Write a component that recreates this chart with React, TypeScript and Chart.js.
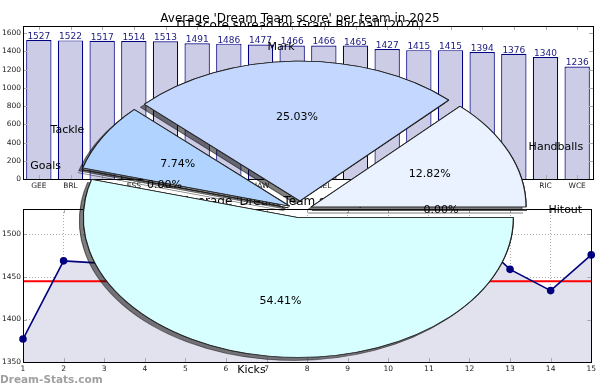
import React, { useEffect, useRef } from 'react';
import { Chart, registerables } from 'chart.js';
Chart.register(...registerables);

const FONT = "'DejaVu Sans', sans-serif";

// ---- Bar chart data ----
const BAR_TITLE = "Average 'Dream Team score' per team in 2025";
const BAR_TEAMS = ['GEE', 'BRL', 'SYD', 'ESS', 'COL', 'WBD', 'PTA', 'HAW', 'ADE', 'MEL', 'GWS', 'CAR', 'FRE', 'STK', 'NTH', 'GCS', 'RIC', 'WCE'];
const BAR_VALUES = [1527, 1522, 1517, 1514, 1513, 1491, 1486, 1477, 1466, 1466, 1465, 1427, 1415, 1415, 1394, 1376, 1340, 1236];
const BAR_Y_MAX = 1680;
const BAR_Y_STEP = 200;

// ---- Line chart data ----
const LINE_TITLE = "Average 'Dream Team score' per round";
const ROUNDS = ['1', '2', '3', '4', '5', '6', '7', '8', '9', '10', '11', '12', '13', '14', '15'];
const ROUND_SCORES = [1377, 1469, 1466, 1420, 1455, 1398, 1440, 1462, 1410, 1445, 1461, 1503, 1459, 1434, 1476];
const ROUND_MEAN = [1445, 1445, 1445, 1445, 1445, 1445, 1445, 1445, 1445, 1445, 1445, 1445, 1445, 1445, 1445];
const LINE_Y_MIN = 1350;
const LINE_Y_MAX = 1530;
const LINE_Y_STEP = 50;

// ---- Pie chart data (clockwise from east) ----
const PIE_TITLE = 'DT score spread for Grant Birchall (2020)';
const PIE_LABELS = ['Hitout', 'Kicks', 'Goals', 'Tackle', 'Mark', 'Handballs'];
const PIE_PERCENT = [0, 54.41, 0, 7.74, 25.03, 12.82];
const PIE_COLORS = ['#F0E6FF', '#D8FFFF', '#E0E0FF', '#B0D4FF', '#C4D8FF', '#EAF2FF'];
const PIE_EXPLODE = [12, 12, 12, 12, 14, 12];
const PIE_KY = 0.65;

function frame(chart: any) {
  const { ctx, chartArea: a } = chart;
  ctx.save();
  // inside tick marks (matplotlib style)
  ctx.strokeStyle = '#aaaaaa';
  ctx.lineWidth = 1;
  const xs = chart.scales.x, ys = chart.scales.y;
  ctx.beginPath();
  xs.ticks.forEach((_t: any, i: number) => {
    const x = Math.round(xs.getPixelForTick(i)) + 0.5;
    ctx.moveTo(x, a.top); ctx.lineTo(x, a.top + 4);
    ctx.moveTo(x, a.bottom); ctx.lineTo(x, a.bottom - 4);
  });
  ys.ticks.forEach((_t: any, i: number) => {
    const y = Math.round(ys.getPixelForTick(i)) + 0.5;
    ctx.moveTo(a.left, y); ctx.lineTo(a.left + 4, y);
    ctx.moveTo(a.right, y); ctx.lineTo(a.right - 4, y);
  });
  ctx.stroke();
  ctx.strokeStyle = '#000';
  ctx.strokeRect(Math.round(a.left) + 0.5, Math.round(a.top) + 0.5, Math.round(a.right - a.left), Math.round(a.bottom - a.top));
  ctx.restore();
}

const plainTick = (v: any) => String(v);

const barDecor = {
  id: 'barDecor',
  beforeDraw(chart: any) {
    const { ctx, chartArea } = chart;
    ctx.save();
    ctx.beginPath();
    ctx.rect(0, 0, chart.width, chartArea.top);
    ctx.clip();
    ctx.font = `12px ${FONT}`;
    ctx.fillStyle = '#000';
    ctx.textAlign = 'center';
    ctx.textBaseline = 'alphabetic';
    ctx.fillText(PIE_TITLE, 300, 29);
    ctx.restore();
    ctx.save();
    ctx.font = `12px ${FONT}`;
    ctx.fillStyle = '#000';
    ctx.textAlign = 'center';
    ctx.textBaseline = 'alphabetic';
    ctx.fillText(BAR_TITLE, 300, 22);
    ctx.restore();
  },
  afterDatasetsDraw(chart: any) {
    const { ctx } = chart;
    const meta = chart.getDatasetMeta(0);
    ctx.save();
    ctx.font = `9px ${FONT}`;
    ctx.fillStyle = '#1a1a80';
    ctx.textAlign = 'center';
    ctx.textBaseline = 'alphabetic';
    meta.data.forEach((el: any, i: number) => {
      ctx.fillText(String(BAR_VALUES[i]), el.x, el.y - 1);
    });
    ctx.restore();
  },
  afterDraw(chart: any) {
    frame(chart);
  },
};

const lineDecor = {
  id: 'lineDecor',
  beforeDraw(chart: any) {
    const { ctx } = chart;
    ctx.save();
    ctx.font = `12px ${FONT}`;
    ctx.fillStyle = '#000';
    ctx.textAlign = 'center';
    ctx.textBaseline = 'alphabetic';
    ctx.fillText(LINE_TITLE, 300, 10);
    ctx.restore();
  },
  afterDraw(chart: any) {
    frame(chart);
  },
};

function drawSlice(ctx: any, el: any, e: number) {
  const mid = (el.startAngle + el.endAngle) / 2;
  ctx.save();
  ctx.translate(Math.cos(mid) * e, Math.sin(mid) * e);
  if (el.endAngle - el.startAngle > 0) {
    el.draw(ctx);
  } else {
    const a = el.startAngle;
    ctx.beginPath();
    ctx.moveTo(el.x, el.y);
    ctx.lineTo(el.x + Math.cos(a) * el.outerRadius, el.y + Math.sin(a) * el.outerRadius);
    ctx.strokeStyle = '#222';
    ctx.lineWidth = 1.2;
    ctx.stroke();
  }
  ctx.restore();
}

const pieDecor = {
  id: 'pieDecor',
  beforeDatasetsDraw(chart: any) {
    const ctx = chart.ctx;
    const meta = chart.getDatasetMeta(0);
    const el0 = meta.data[0];
    const cx = el0.x, cy = el0.y;
    ctx.save();
    ctx.translate(cx, cy);
    ctx.scale(1, PIE_KY);
    ctx.translate(-cx, -cy);
    // shadows first, behind every wedge
    ctx.save();
    ctx.shadowColor = 'rgba(0,0,0,0.5)';
    ctx.shadowOffsetX = -4;
    ctx.shadowOffsetY = 3;
    ctx.shadowBlur = 0;
    meta.data.forEach((el: any, i: number) => drawSlice(ctx, el, PIE_EXPLODE[i]));
    ctx.restore();
    // wedges
    meta.data.forEach((el: any, i: number) => drawSlice(ctx, el, PIE_EXPLODE[i]));
    ctx.restore();

    // labels
    ctx.save();
    ctx.font = `11px ${FONT}`;
    ctx.fillStyle = '#000';
    ctx.textBaseline = 'middle';
    meta.data.forEach((el: any, i: number) => {
      const mid = (el.startAngle + el.endAngle) / 2;
      const e = PIE_EXPLODE[i];
      const r = el.outerRadius;
      const c = Math.cos(mid), s = Math.sin(mid);
      const lx = cx + c * (e + 1.1 * r);
      const ly = cy + PIE_KY * s * (e + 1.1 * r);
      ctx.textAlign = c >= 0 ? 'left' : 'right';
      ctx.fillText(PIE_LABELS[i], lx, ly);
      const px = cx + c * (e + 0.6 * r);
      const py = cy + PIE_KY * s * (e + 0.6 * r);
      ctx.textAlign = 'center';
      ctx.fillText(PIE_PERCENT[i].toFixed(2) + '%', px, py);
    });
    ctx.restore();
    return false;
  },
};

export default function App() {
  const barRef = useRef<HTMLCanvasElement>(null);
  const lineRef = useRef<HTMLCanvasElement>(null);
  const pieRef = useRef<HTMLCanvasElement>(null);

  useEffect(() => {
    const tickFont = { family: FONT, size: 7.5 };
    const bar = new Chart(barRef.current as HTMLCanvasElement, {
      type: 'bar',
      data: {
        labels: BAR_TEAMS,
        datasets: [{
          data: BAR_VALUES,
          backgroundColor: '#CCCCE6',
          borderColor: '#000080',
          borderWidth: 1.2,
          barPercentage: 0.8,
          categoryPercentage: 1,
        }],
      },
      options: {
        animation: false,
        responsive: false,
        events: [],
        layout: { padding: { top: 26, right: 6, left: 0, bottom: 0 } },
        plugins: { legend: { display: false }, tooltip: { enabled: false }, title: { display: false } },
        scales: {
          x: {
            grid: { display: false, drawTicks: false },
            border: { display: false },
            ticks: { font: tickFont, color: '#222', padding: 3, maxRotation: 0, autoSkip: false },
            afterFit: (s: any) => { s.height = 16; },
          },
          y: {
            min: 0,
            max: BAR_Y_MAX,
            grid: { display: false, drawTicks: false },
            border: { display: false },
            ticks: { stepSize: BAR_Y_STEP, includeBounds: false, font: tickFont, color: '#222', padding: 2, callback: plainTick },
            afterFit: (s: any) => { s.width = 23; },
          },
        },
      } as any,
      plugins: [barDecor],
    });

    const line = new Chart(lineRef.current as HTMLCanvasElement, {
      type: 'line',
      data: {
        labels: ROUNDS,
        datasets: [
          {
            data: ROUND_SCORES,
            borderColor: '#000080',
            backgroundColor: '#E2E2EE',
            fill: 'start',
            borderWidth: 1.6,
            pointRadius: 3,
            pointBackgroundColor: '#000080',
            pointBorderColor: '#000080',
            tension: 0,
          },
          {
            data: ROUND_MEAN,
            borderColor: '#FF0000',
            borderWidth: 2,
            pointRadius: 0,
            fill: false,
          },
        ],
      },
      options: {
        animation: false,
        responsive: false,
        events: [],
        layout: { padding: { top: 14, right: 6, left: 0, bottom: 0 } },
        plugins: {
          legend: { display: false },
          tooltip: { enabled: false },
          title: { display: false },
          filler: { drawTime: 'beforeDatasetsDraw' },
        },
        scales: {
          x: {
            offset: false,
            grid: { color: '#aaaaaa', lineWidth: 1, drawTicks: false },
            border: { display: false, dash: [1, 2] },
            ticks: { font: tickFont, color: '#222', padding: 3, maxRotation: 0, autoSkip: false },
            afterFit: (s: any) => { s.height = 28; },
          },
          y: {
            min: LINE_Y_MIN,
            max: LINE_Y_MAX,
            grid: { color: '#aaaaaa', lineWidth: 1, drawTicks: false },
            border: { display: false, dash: [1, 2] },
            ticks: { stepSize: LINE_Y_STEP, includeBounds: false, font: tickFont, color: '#222', padding: 2, callback: plainTick },
            afterFit: (s: any) => { s.width = 23; },
          },
        },
      } as any,
      plugins: [lineDecor],
    });

    const pie = new Chart(pieRef.current as HTMLCanvasElement, {
      type: 'pie',
      data: {
        labels: PIE_LABELS,
        datasets: [{
          data: PIE_PERCENT,
          backgroundColor: PIE_COLORS,
          borderColor: '#222',
          borderWidth: 1.2,
          offset: 0,
          hoverOffset: 0,
          clip: false,
        } as any],
      },
      options: {
        animation: false,
        responsive: false,
        events: [],
        rotation: 90,
        radius: 215,
        layout: { padding: 0 },
        plugins: { legend: { display: false }, tooltip: { enabled: false }, title: { display: false } },
      } as any,
      plugins: [pieDecor],
    });

    return () => {
      bar.destroy();
      line.destroy();
      pie.destroy();
    };
  }, []);

  return (
    <div style={{ position: 'absolute', left: 0, top: 0, width: 599, height: 390, overflow: 'hidden', background: '#fff' }}>
      <canvas ref={barRef} width={599} height={195} style={{ position: 'absolute', left: 0, top: 0, width: 599, height: 195 }} />
      <canvas ref={lineRef} width={599} height={195} style={{ position: 'absolute', left: 0, top: 195, width: 599, height: 195 }} />
      <canvas ref={pieRef} width={600} height={420} style={{ position: 'absolute', left: 0, top: 0, width: 600, height: 420, pointerEvents: 'none' }} />
      <div style={{ position: 'absolute', left: 0, top: 372, fontFamily: FONT, fontWeight: 'bold', fontSize: 10.5, lineHeight: '14px', color: '#a0a0a0' }}>
        Dream-Stats.com
      </div>
    </div>
  );
}
